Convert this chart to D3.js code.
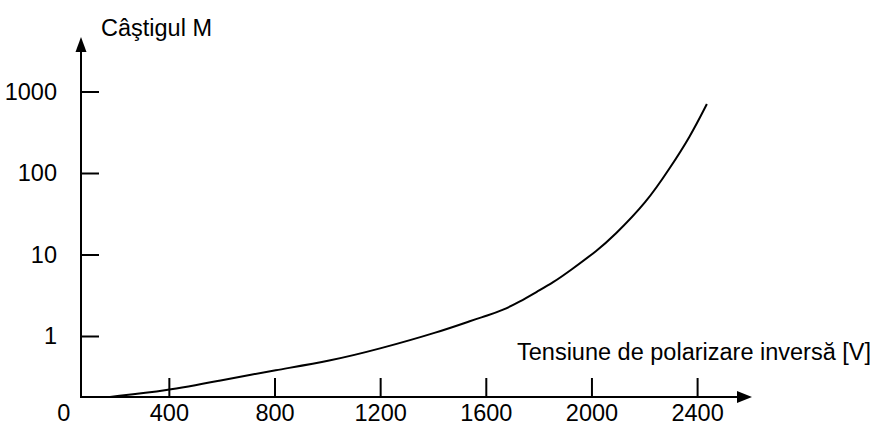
<!DOCTYPE html>
<html>
<head>
<meta charset="utf-8">
<script src="https://cdn.jsdelivr.net/npm/d3@7"></script>
<style>
  html, body { margin: 0; padding: 0; background: #fff; }
  svg { display: block; }
  text { font-family: "Liberation Sans", Arial, sans-serif; font-size: 23.5px; fill: #000; }
</style>
</head>
<body>
<div id="chart"></div>
<script>
// ---- data ----
const voltage = [177, 393, 594, 806, 1010, 1196, 1426, 1551, 1604, 1665, 1729, 1794, 1854, 1919, 2025, 2081, 2210, 2297, 2373, 2437];
const gain    = [0.179, 0.213, 0.284, 0.383, 0.493, 0.692, 1.13, 1.57, 1.77, 2.08, 2.63, 3.50, 4.51, 6.33, 11.4, 16.4, 44.0, 115, 277, 703];
const xTicks = [0, 400, 800, 1200, 1600, 2000, 2400];
const yTicks = [1, 10, 100, 1000];
const yTitle = "Câştigul M";
const xTitle = "Tensiune de polarizare inversă [V]";

// ---- layout ----
const W = 880, H = 427;
const axisX = 81, axisY = 397, axisTop = 37, axisRight = 752;

const svg = d3.select("#chart").append("svg").attr("width", W).attr("height", H);

const x = d3.scaleLinear().domain([0, 2400]).range([63.2, 697.1]);
const y = d3.scaleLog().domain([1, 1000]).range([336, 91.5]);

// Y axis ticks/labels
const yAxis = d3.axisLeft(y).tickValues(yTicks).tickSize(-18).tickPadding(24).tickFormat(d3.format("d"));
const gy = svg.append("g").attr("transform", `translate(${axisX},0)`).call(yAxis);
gy.select(".domain").remove();
gy.selectAll("line").attr("stroke", "#000").attr("stroke-width", 2);
gy.selectAll("text").attr("fill", "#000");
gy.attr("font-size", null).attr("font-family", null);

// X axis ticks/labels
const xAxis = d3.axisBottom(x).tickValues(xTicks).tickSize(-19).tickPadding(7).tickFormat(d3.format("d"));
const gx = svg.append("g").attr("transform", `translate(0,${axisY})`).call(xAxis);
gx.select(".domain").remove();
gx.selectAll("line").attr("stroke", "#000").attr("stroke-width", 2);
gx.selectAll(".tick").filter(d => d === 0).select("line").remove();
gx.selectAll("text").attr("fill", "#000");
gx.attr("font-size", null).attr("font-family", null);

// axis lines with arrows
svg.append("line").attr("x1", axisX).attr("y1", axisY).attr("x2", axisX).attr("y2", axisTop + 10)
  .attr("stroke", "#000").attr("stroke-width", 2);
svg.append("path").attr("d", `M${axisX},${axisTop} L${axisX - 5.5},${axisTop + 15} L${axisX + 5.5},${axisTop + 15} Z`).attr("fill", "#000");

svg.append("line").attr("x1", axisX - 1).attr("y1", axisY).attr("x2", axisRight - 10).attr("y2", axisY)
  .attr("stroke", "#000").attr("stroke-width", 2);
svg.append("path").attr("d", `M${axisRight},${axisY} L${axisRight - 15},${axisY - 6} L${axisRight - 15},${axisY + 6} Z`).attr("fill", "#000");

// titles
svg.append("text").attr("x", 101).attr("y", 36).text(yTitle);
svg.append("text").attr("x", 517).attr("y", 360).text(xTitle);

// curve
const pts = voltage.map((v, i) => [v, gain[i]]);
const line = d3.line().x(d => x(d[0])).y(d => y(d[1])).curve(d3.curveBasis);
svg.append("path").datum(pts).attr("d", line)
  .attr("fill", "none").attr("stroke", "#000").attr("stroke-width", 2);
</script>
</body>
</html>
